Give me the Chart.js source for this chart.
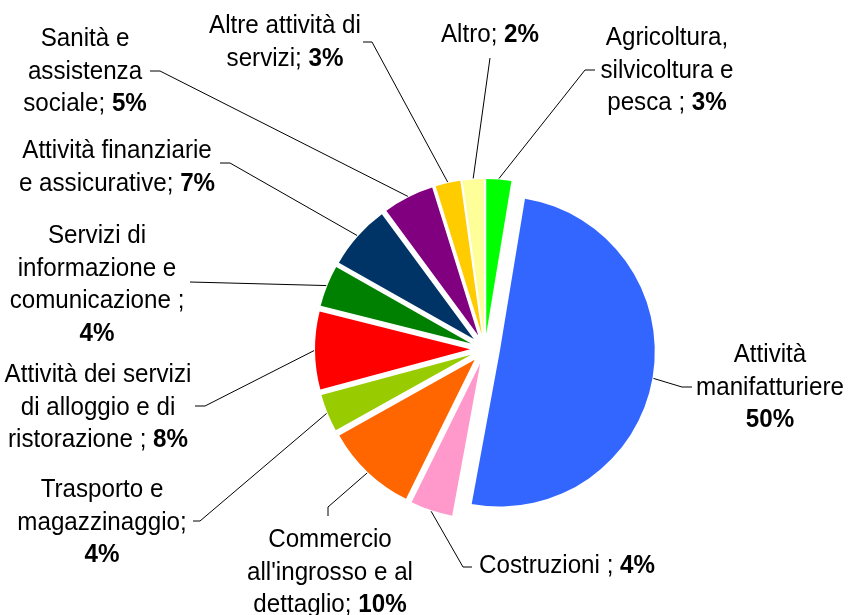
<!DOCTYPE html>
<html>
<head>
<meta charset="utf-8">
<script src="https://cdn.jsdelivr.net/npm/chart.js@4.4.1/dist/chart.umd.min.js"></script>
<style>
  body { margin: 0; background: #fff; }
</style>
</head>
<body>
<canvas id="sectorChart" width="850" height="615"></canvas>
<script>
const sectors = [
  'Agricoltura, silvicoltura e pesca',
  'Attività manifatturiere',
  'Costruzioni',
  "Commercio all'ingrosso e al dettaglio",
  'Trasporto e magazzinaggio',
  'Attività dei servizi di alloggio e di ristorazione',
  'Servizi di informazione e comunicazione',
  'Attività finanziarie e assicurative',
  'Sanità e assistenza sociale',
  'Altre attività di servizi',
  'Altro'
];
const shares = [2.6, 50.3, 4.4, 9.6, 3.9, 8.1, 4.3, 6.7, 5.3, 2.6, 2.2];
const sectorColors = ['#00FF00', '#3366FF', '#FF99CC', '#FF6600', '#99CC00', '#FF0000',
  '#008000', '#003366', '#800080', '#FFCC00', '#FFFF99'];

// label text as it is broken in the picture, {p} is the bold percentage
const labelTexts = [
  'Agricoltura,\nsilvicoltura e\npesca ; {p}',
  'Attività\nmanifatturiere\n{p}',
  'Costruzioni ; {p}',
  "Commercio\nall'ingrosso e al\ndettaglio; {p}",
  'Trasporto e\nmagazzinaggio;\n{p}',
  'Attività dei servizi\ndi alloggio e di\nristorazione ; {p}',
  'Servizi di\ninformazione e\ncomunicazione ;\n{p}',
  'Attività finanziarie\ne assicurative; {p}',
  'Sanità e\nassistenza\nsociale; {p}',
  'Altre attività di\nservizi; {p}',
  'Altro; {p}'
];

// label boxes: centre x, first baseline, bend of the leader line, end of it next to the text
const labelBoxes = [
  { x: 667, y: 45, bend: [585, 70], end: [595, 70] },
  { x: 770, y: 362, bend: [682, 387], end: [692, 387] },
  { x: 567, y: 573, bend: [463, 567], end: [472, 567] },
  { x: 330, y: 547, bend: [328, 507], end: [328, 516] },
  { x: 102, y: 497, bend: [200, 521], end: [193, 521] },
  { x: 98, y: 382, bend: [205, 406], end: [195, 406] },
  { x: 97, y: 243, bend: [190, 282], end: [190, 282] },
  { x: 117, y: 158, bend: [230, 163], end: [220, 163] },
  { x: 85, y: 46, bend: [160, 71], end: [150, 71] },
  { x: 285, y: 33, bend: [372, 42], end: [363, 42] },
  { x: 490, y: 42, bend: [490, 58], end: [490, 58] }
];

const EXPLODE = 15;
const LINE_HEIGHT = 32.5;
const FONT = '26px "Liberation Sans", Arial, sans-serif';
const FONT_BOLD = 'bold 26px "Liberation Sans", Arial, sans-serif';
const SQUEEZE = 0.93; // the labels are a bit narrower than plain Arial

// push every slice out from the centre (chart.js offset also grows the radius)
const explodePlugin = {
  id: 'explode',
  beforeDatasetDraw(chart, args) {
    const ctx = chart.ctx;
    args.meta.data.forEach(arc => {
      const mid = (arc.startAngle + arc.endAngle) / 2;
      ctx.save();
      ctx.translate(Math.cos(mid) * EXPLODE, Math.sin(mid) * EXPLODE);
      arc.draw(ctx);
      ctx.restore();
    });
    return false;
  }
};

const labelPlugin = {
  id: 'sliceLabels',
  afterDraw(chart) {
    const ctx = chart.ctx;
    const arcs = chart.getDatasetMeta(0).data;
    const total = shares.reduce((a, b) => a + b, 0);
    ctx.save();
    ctx.strokeStyle = '#000';
    ctx.lineWidth = 1;
    ctx.fillStyle = '#000';
    ctx.textBaseline = 'alphabetic';
    ctx.textAlign = 'left';
    arcs.forEach((arc, i) => {
      const box = labelBoxes[i];
      const mid = (arc.startAngle + arc.endAngle) / 2;
      const r = arc.outerRadius + EXPLODE + 1;
      ctx.beginPath();
      ctx.moveTo(arc.x + Math.cos(mid) * r, arc.y + Math.sin(mid) * r);
      ctx.lineTo(box.bend[0], box.bend[1]);
      ctx.lineTo(box.end[0], box.end[1]);
      ctx.stroke();

      const pct = (shares[i] / total * 100).toFixed(0) + '%';
      labelTexts[i].split('\n').forEach((line, k) => {
        const parts = line.split('{p}');
        const plain = parts[0];
        const bold = parts.length > 1 ? pct : '';
        ctx.font = FONT;
        const w1 = ctx.measureText(plain).width;
        ctx.font = FONT_BOLD;
        const w2 = ctx.measureText(bold).width;
        const y = box.y + k * LINE_HEIGHT;
        ctx.save();
        ctx.translate(box.x - (w1 + w2) * SQUEEZE / 2, y);
        ctx.scale(SQUEEZE, 1);
        ctx.font = FONT;
        ctx.fillText(plain, 0, 0);
        ctx.font = FONT_BOLD;
        ctx.fillText(bold, w1, 0);
        ctx.restore();
      });
    });
    ctx.restore();
  }
};

const ctxSectors = document.getElementById('sectorChart').getContext('2d');
const sectorChart = new Chart(ctxSectors, {
  type: 'pie',
  data: {
    labels: sectors,
    datasets: [
      {
        data: shares,
        backgroundColor: sectorColors,
        borderWidth: 0
      }
    ]
  },
  options: {
    responsive: false,
    animation: false,
    radius: 155,
    layout: {
      padding: { left: 120, top: 83, right: 0, bottom: 0 }
    },
    plugins: {
      legend: { display: false },
      tooltip: { enabled: false }
    }
  },
  plugins: [explodePlugin, labelPlugin]
});
</script>
</body>
</html>
